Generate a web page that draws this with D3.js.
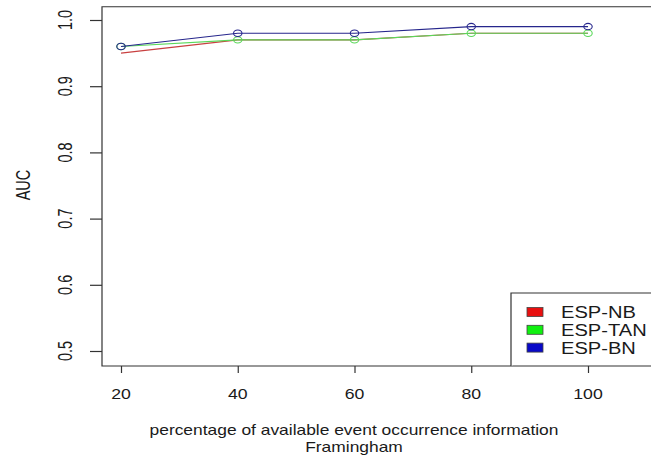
<!DOCTYPE html>
<html>
<head>
<meta charset="utf-8">
<script src="https://cdn.jsdelivr.net/npm/d3@7"></script>
<style>
  body { margin: 0; background: #fff; }
  text { font-family: "Liberation Sans", Arial, sans-serif; fill: #1a1a1a; }
</style>
</head>
<body>
<script>
// ---- data ----
var pct = [20, 40, 60, 80, 100];
var espNB  = [0.95, 0.97, 0.97, 0.98, 0.98];
var espTAN = [0.96, 0.97, 0.97, 0.98, 0.98];
var espBN  = [0.96, 0.98, 0.98, 0.99, 0.99];
var seriesNames = ["ESP-NB", "ESP-TAN", "ESP-BN"];
var yTicks = [0.5, 0.6, 0.7, 0.8, 0.9, 1.0];
var xTicks = [20, 40, 60, 80, 100];

var lineColors = ["#c84040", "#5ad85a", "#26268c"];
var fillColors = ["#e81010", "#10f010", "#0808c8"];
var showPoints = [false, true, true]; // NB is drawn as a plain line

var W = 651, H = 461;
var svg = d3.select("body").append("svg")
  .attr("width", W).attr("height", H);

svg.append("rect").attr("width", W).attr("height", H).attr("fill", "#fff");

var x = d3.scaleLinear().domain([20, 100]).range([121, 588]);
var y = d3.scaleLinear().domain([0.5, 1.0]).range([351, 20]);

var boxL = 102, boxT = y(1.02), boxB = 366, boxR = 660;
var sx = 1.22; // horizontal stretch of the source picture

// --------lines & points--------------
var all = [espNB, espTAN, espBN];
var line = d3.line()
  .x(function(d, i) { return x(pct[i]); })
  .y(function(d) { return y(d); });

all.forEach(function(vals, k) {
  svg.append("path")
    .datum(vals)
    .attr("d", line)
    .attr("fill", "none")
    .attr("stroke", lineColors[k])
    .attr("stroke-width", 1.1);
  if (!showPoints[k]) return;
  svg.selectAll(".pt" + k)
    .data(vals)
    .enter()
    .append("ellipse")
    .attr("cx", function(d, i) { return x(pct[i]); })
    .attr("cy", function(d) { return y(d); })
    .attr("rx", 4.2)
    .attr("ry", 3.2)
    .attr("fill", "none")
    .attr("stroke", lineColors[k])
    .attr("stroke-width", 1.1);
});

// --------box--------------
svg.append("path")
  .attr("d", "M" + boxR + "," + boxT + "H" + boxL + "V" + boxB + "H" + boxR)
  .attr("fill", "none")
  .attr("stroke", "#333")
  .attr("stroke-width", 1.2);

// --------axes--------------
var yAxis = svg.append("g").attr("transform", "translate(" + boxL + ",0)")
  .call(d3.axisLeft(y).tickValues(yTicks).tickSize(12));
yAxis.select(".domain").remove();
yAxis.selectAll("line").attr("stroke", "#333").attr("stroke-width", 1.2);
yAxis.selectAll("text").remove();

yTicks.forEach(function(t) {
  svg.append("text")
    .attr("transform", "translate(72," + y(t) + ") scale(1.35,1) rotate(-90)")
    .attr("text-anchor", "middle")
    .attr("font-size", 14.5)
    .text(d3.format(".1f")(t));
});

var xAxis = svg.append("g").attr("transform", "translate(0," + boxB + ")")
  .call(d3.axisBottom(x).tickValues(xTicks).tickSize(7));
xAxis.select(".domain").remove();
xAxis.selectAll("line").attr("stroke", "#333").attr("stroke-width", 1.2);
xAxis.selectAll("text").remove();

xTicks.forEach(function(t) {
  svg.append("text")
    .attr("transform", "translate(" + x(t) + ",399) scale(" + sx + ",1)")
    .attr("text-anchor", "middle")
    .attr("font-size", 14.5)
    .text(t);
});

// --------titles--------------
svg.append("text")
  .attr("transform", "translate(30,185) scale(1.35,1) rotate(-90)")
  .attr("text-anchor", "middle")
  .attr("font-size", 14.5)
  .text("AUC");

svg.append("text")
  .attr("transform", "translate(354,435) scale(1.16,1)")
  .attr("text-anchor", "middle")
  .attr("font-size", 15)
  .text("percentage of available event occurrence information");
svg.append("text")
  .attr("transform", "translate(354,452) scale(1.16,1)")
  .attr("text-anchor", "middle")
  .attr("font-size", 15)
  .text("Framingham");

// --------legend--------------
var legL = 511, legT = 293;
svg.append("path")
  .attr("d", "M" + boxR + "," + legT + "H" + legL + "V" + boxB)
  .attr("fill", "#fff")
  .attr("stroke", "#333")
  .attr("stroke-width", 1.2);

var legend = svg.selectAll(".leg")
  .data(seriesNames)
  .enter()
  .append("g")
  .attr("transform", function(d, i) { return "translate(0," + (312 + i * 17.8) + ")"; });

legend.append("rect")
  .attr("x", 527).attr("y", -4.5)
  .attr("width", 16).attr("height", 9)
  .attr("fill", function(d, i) { return fillColors[i]; })
  .attr("stroke", "#444").attr("stroke-width", 0.8);

legend.append("text")
  .attr("transform", "translate(561,6) scale(" + sx + ",1)")
  .attr("font-size", 16.5)
  .text(function(d) { return d; });
</script>
</body>
</html>
